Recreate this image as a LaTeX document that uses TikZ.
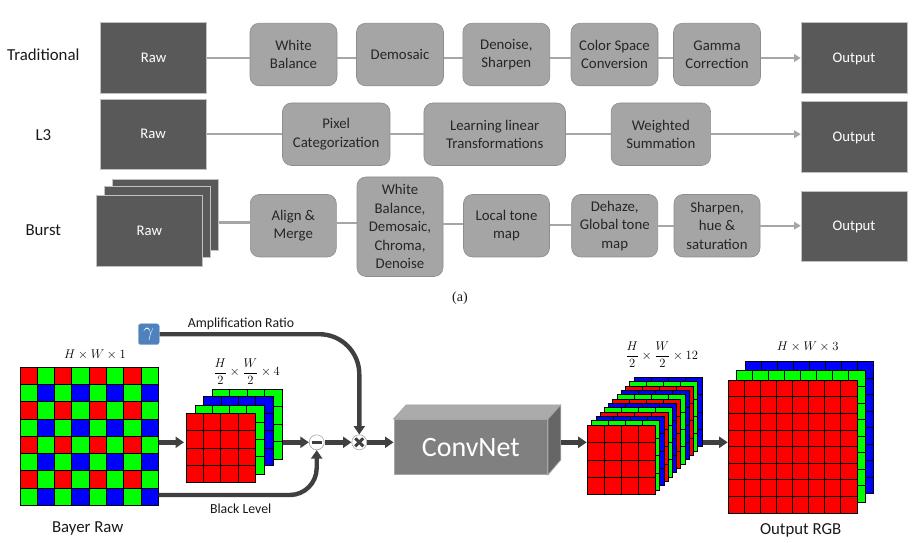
\documentclass[tikz,border=0pt]{standalone}
\usepackage{fix-cm}
\usepackage{fontspec}
\setmainfont{Carlito}
\newfontfamily\capfont{Liberation Serif}
\usepackage{xcolor}
\usetikzlibrary{arrows.meta, positioning, calc}
\definecolor{darkbox}{RGB}{89, 89, 89}
\definecolor{midbox}{RGB}{165, 165, 165}
\definecolor{flowgray}{RGB}{166, 166, 166}
\definecolor{heavyline}{RGB}{64, 64, 64}
\definecolor{gammablue}{RGB}{79, 129, 189}
\definecolor{pixred}{RGB}{255, 0, 0}
\definecolor{pixgreen}{RGB}{0, 255, 0}
\definecolor{pixblue}{RGB}{0, 0, 255}
\tikzset{
    darknode/.style={fill=darkbox, draw=flowgray!70, line width=0.6pt, text=white, inner sep=0pt,
        minimum width=106pt, minimum height=70.5pt, text height=12pt, text depth=3pt, font=\fontsize{14.7}{17}\selectfont},
    stepbox/.style={fill=midbox, draw=flowgray!85!black, line width=0.6pt, rounded corners=9pt, inner sep=0pt,
        minimum height=62.5pt, align=center, text=black!85, font=\fontsize{14.8}{18.5}\selectfont},
    rowlabel/.style={font=\fontsize{16.8}{18}\selectfont, text=black!90},
    flowline/.style={draw=flowgray, line width=2.4pt},
    flowarrow/.style={flowline, -{Triangle[length=6.5pt, width=7.5pt, fill=flowgray]}},
    heavyarrow/.style={draw=heavyline, line width=4.4pt, -{Triangle[length=8.5pt, width=11pt, fill=heavyline]}},
    opnode/.style={circle, fill=white, draw=flowgray, line width=0.6pt, minimum size=15pt, inner sep=0pt},
    layerbox/.style={draw=black, line width=1pt, anchor=north west, inner sep=0pt, outer sep=0pt},
    smalltext/.style={font=\fontsize{13.8}{15}\selectfont, text=black!90},
    bigtext/.style={font=\fontsize{16.8}{18}\selectfont, text=black!90},
    sizetext/.style={font=\fontsize{12.6}{14}\selectfont, text=black},
}
% one flat coloured layer with a square grid on it
\newcommand{\gridlayer}[7]{%
    \node[layerbox, fill=#7, minimum width=#4pt, minimum height=#5pt] (#1) at (#2,#3) {};
    \pgfmathtruncatemacro{\lastcut}{#6-1}
    \foreach \k in {1,...,\lastcut} {
        \draw[black, line width=1pt] ($(#1.north west)!\k/#6!(#1.north east)$) -- ($(#1.south west)!\k/#6!(#1.south east)$);
        \draw[black, line width=1pt] ($(#1.north west)!\k/#6!(#1.south west)$) -- ($(#1.north east)!\k/#6!(#1.south east)$);
    }
}
\begin{document}
\begin{tikzpicture}[x=1pt, y=-1pt]
    \useasboundingbox (0,0) rectangle (920,542);

    % (a) pipelines
    \node[rowlabel] (labtrad) at (43.3,54.5) {Traditional};
    \node[rowlabel] (labl3) at (43.3,135) {L3};
    \node[rowlabel] (labburst) at (43.3,230) {Burst};

    % traditional row
    \node[darknode] (rawa) at (153.7,58) {Raw};
    \node[stepbox, minimum width=87pt] (wb) at (293.5,54.5) {White\\Balance};
    \node[stepbox, minimum width=87pt] (dem) at (400,54.5) {Demosaic};
    \node[stepbox, minimum width=87pt] (den) at (506.3,54.5) {Denoise,\\Sharpen};
    \node[stepbox, minimum width=87pt] (csc) at (614.5,54.5) {Color Space\\Conversion};
    \node[stepbox, minimum width=87pt] (gam) at (717,54.5) {Gamma\\Correction};
    \node[darknode] (outa) at (854,58) {Output};
    \draw[flowline] (rawa.east) -- (rawa.east -| wb.west);
    \draw[flowline] (rawa.east -| wb.east) -- (rawa.east -| dem.west);
    \draw[flowline] (rawa.east -| dem.east) -- (rawa.east -| den.west);
    \draw[flowline] (rawa.east -| den.east) -- (rawa.east -| csc.west);
    \draw[flowline] (rawa.east -| csc.east) -- (rawa.east -| gam.west);
    \draw[flowarrow] (rawa.east -| gam.east) -- (outa.west);

    % L3 row
    \node[darknode] (rawb) at (153.2,134.2) {Raw};
    \node[stepbox, minimum width=107.5pt] (pix) at (336.2,134.2) {Pixel\\Categorization};
    \node[stepbox, minimum width=141.5pt] (learn) at (494.7,134.2) {Learning linear\\Transformations};
    \node[stepbox, minimum width=99.5pt] (wsum) at (660.8,134.2) {Weighted\\Summation};
    \node[darknode] (outb) at (854,137) {Output};
    \draw[flowline] (rawb.east) -- (pix.west);
    \draw[flowline] (pix.east) -- (learn.west);
    \draw[flowline] (learn.east) -- (wsum.west);
    \draw[flowarrow] (wsum.east) -- (wsum.east -| outb.west);

    % burst row
    \node[darknode] (rawc3) at (165.5,214.6) {};
    \node[darknode] (rawc2) at (157,221.8) {};
    \node[darknode] (rawc1) at (149.3,230.8) {Raw};
    \node[stepbox, minimum width=86pt] (align) at (293.3,225.7) {Align \&\\Merge};
    \node[stepbox, minimum width=86pt, minimum height=99.5pt] (wbd) at (400,226.7) {White\\Balance,\\Demosaic,\\Chroma,\\Denoise};
    \node[stepbox, minimum width=86pt] (tone) at (506.5,225.7) {Local tone\\map};
    \node[stepbox, minimum width=86pt] (dehaze) at (614.7,225.7) {Dehaze,\\Global tone\\map};
    \node[stepbox, minimum width=86pt] (sharp) at (717,225.7) {Sharpen,\\hue \&\\saturation};
    \node[darknode] (outc) at (854,226.2) {Output};
    \draw[flowline] ([yshift=-7.7pt]rawc3.east) -- ([yshift=3.4pt]align.west);
    \draw[flowline] ([yshift=3pt]align.east) -- ([yshift=4pt]wbd.west);
    \draw[flowline] ([yshift=2.7pt]wbd.east) -- ([yshift=1.7pt]tone.west);
    \draw[flowline] ([yshift=1pt]tone.east) -- ([yshift=1pt]dehaze.west);
    \draw[flowline] (dehaze.east) -- (sharp.west);
    \draw[flowarrow] (sharp.east) -- (sharp.east -| outc.west);

    \node[font=\capfont\fontsize{14}{16}\selectfont, text=black!90] (capa) at (460,298) {(a)};

    % (b) learned pipeline, bayer mosaic first
    \node[layerbox, minimum width=138.7pt, minimum height=138.7pt] (bayer) at (20,367) {};
    \foreach \r in {0,...,7} {
        \foreach \c in {0,...,7} {
            \pgfmathtruncatemacro{\kind}{mod(\r,2)+mod(\c,2)}
            \ifcase\kind \def\pixcol{pixred}\or \def\pixcol{pixgreen}\or \def\pixcol{pixblue}\fi
            \fill[\pixcol] (20+\c*17.33,367+\r*17.33) rectangle +(17.33,17.33);
        }
    }
    \foreach \k in {0,...,8} {
        \draw[black, line width=1pt] (20+\k*17.33,367) -- (20+\k*17.33,505.7);
        \draw[black, line width=1pt] (20,367+\k*17.33) -- (158.7,367+\k*17.33);
    }

    % packed raw, back to front
    \gridlayer{packd}{212.3}{389.3}{69.7}{69.7}{4}{pixgreen}
    \gridlayer{packc}{203.7}{396}{69.6}{69.7}{4}{pixblue}
    \gridlayer{packb}{195}{405}{69.3}{69.3}{4}{pixgreen}
    \gridlayer{packa}{186}{413.3}{69.7}{69.4}{4}{pixred}

    % convnet block
    \node[fill=black!50, draw=flowgray, line width=0.8pt, minimum width=153.7pt, minimum height=55pt, inner sep=0pt,
        text=white, text height=20pt, font=\fontsize{28}{32}\selectfont] (convnet) at (470.8,446.8) {ConvNet};
    \fill[black!33, draw=flowgray, line width=0.8pt] (convnet.north west) -- ++(12.7,-14) -- ++(153.7,0) -- (convnet.north east) -- cycle;
    \fill[black!60, draw=flowgray, line width=0.8pt] (convnet.north east) -- ++(12.7,-14) -- ++(0,55) -- (convnet.south east) -- cycle;
    \coordinate (convout) at ($(convnet.east)+(13,0)$);

    % twelve channel stack
    \foreach \i/\colr in {11/pixblue,10/pixgreen,9/pixred,8/pixblue,7/pixgreen,6/pixred,5/pixblue,4/pixgreen,3/pixred,2/pixblue,1/pixgreen} {
        \gridlayer{twelve\i}{587.7+\i*4.21}{425.3-\i*4.36}{68}{69.4}{4}{\colr}
    }
    \gridlayer{twelve0}{587.7}{425.3}{68}{69.4}{4}{pixred}

    % output stack
    \gridlayer{outblue}{745}{361.7}{128}{132}{8}{pixblue}
    \gridlayer{outgreen}{736.7}{370.3}{128.3}{132}{8}{pixgreen}
    \gridlayer{outred}{728.7}{380.3}{128.3}{132.7}{8}{pixred}

    % operators
    \node[opnode] (minusop) at (316.7,442.3) {};
    \node[opnode] (timesop) at (359.3,442.3) {};
    \draw[heavyline, line width=3pt] ($(minusop.center)+(-5,0)$) -- ($(minusop.center)+(5,0)$);
    \draw[heavyline, line width=3pt] ($(timesop.center)+(-4,-4)$) -- ($(timesop.center)+(4,4)$);
    \draw[heavyline, line width=3pt] ($(timesop.center)+(-4,4)$) -- ($(timesop.center)+(4,-4)$);

    \node[fill=gammablue, draw=gammablue!60, rounded corners=2.5pt, minimum size=21pt, inner sep=0pt, text=white,
        font=\fontsize{19}{19}\selectfont] (gammabox) at (148.8,334.2) {$\gamma$};

    % heavy connectors
    \draw[heavyarrow, rounded corners=40pt] (gammabox.east) -- (gammabox.east -| timesop.north) -- (timesop.north);
    \draw[heavyarrow, rounded corners=27pt] (bayer.east |- 0,495) -- (minusop.south |- 0,495) -- (minusop.south);
    \draw[heavyarrow] (bayer.east |- minusop) -- ([xshift=-2pt]packa.west |- minusop);
    \draw[heavyarrow] ([xshift=1pt]packd.east |- minusop) -- (minusop.west);
    \draw[heavyarrow] (minusop.east) -- (timesop.west);
    \draw[heavyarrow] (timesop.east) -- (convnet.west |- timesop);
    \draw[heavyarrow] (convout |- timesop) -- ([xshift=-1pt]twelve0.west |- timesop);
    \draw[heavyarrow] ([xshift=1pt]twelve11.east |- timesop) -- ([xshift=-1pt]outred.west |- timesop);

    % labels
    \node[smalltext] (labamp) at (241,324) {Amplification Ratio};
    \node[smalltext] (labblack) at (240.7,508.5) {Black Level};
    \node[bigtext] (labbayer) at (87.7,528) {Bayer Raw};
    \node[bigtext] (laboutrgb) at (800.7,530) {Output RGB};
    \node[sizetext] (dimbayer) at (95,355) {$H\times W\times 1$};
    \node[sizetext] (dimpack) at (246.7,371.7) {$\displaystyle\frac{H}{2}\times\frac{W}{2}\times 4$};
    \node[sizetext] (dimtwelve) at (661.7,355) {$\displaystyle\frac{H}{2}\times\frac{W}{2}\times 12$};
    \node[sizetext] (dimout) at (807.7,346.7) {$H\times W\times 3$};
\end{tikzpicture}
\end{document}
